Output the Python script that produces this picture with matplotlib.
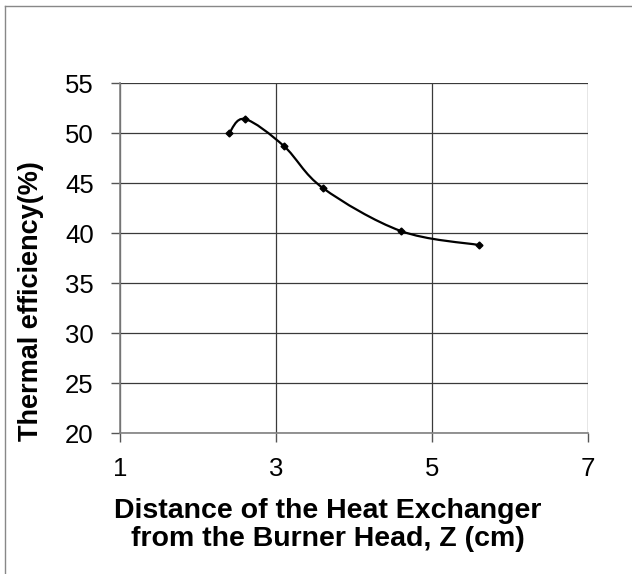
import numpy as np
import matplotlib
matplotlib.use('Agg')
from matplotlib import pyplot as plt
from matplotlib.path import Path
from matplotlib.patches import PathPatch
from matplotlib.lines import Line2D

plt.rcParams['font.family'] = ['Liberation Sans', 'DejaVu Sans']

# distance Z (cm) vs thermal efficiency (%)
z = [2.4, 2.6, 3.1, 3.6, 4.6, 5.6]
eff = [50.0, 51.4, 48.7, 44.5, 40.2, 38.8]
xticks = [1, 3, 5, 7]
yticks = [20, 25, 30, 35, 40, 45, 50, 55]

fig = plt.figure(figsize=(6.32, 5.74), dpi=100)
ax = fig.add_axes([0.19, 0.2456, 0.7404, 0.6098])

# smooth curve like excel (bezier through points)
pts = np.column_stack([z, eff])
n = len(pts)
verts = [pts[0]]
codes = [Path.MOVETO]
for i in range(n - 1):
    p0 = pts[max(i - 1, 0)]
    p1 = pts[i]
    p2 = pts[i + 1]
    p3 = pts[min(i + 2, n - 1)]
    c1 = p1 + (p2 - p0) / 6.0
    c2 = p2 - (p3 - p1) / 6.0
    verts += [c1, c2, p2]
    codes += [Path.CURVE4] * 3
ax.add_patch(PathPatch(Path(verts, codes), fill=False, edgecolor='black', lw=1.6, zorder=3))
ax.plot(z, eff, ls='none', marker='D', ms=3.5, color='black', zorder=4)

ax.set_xlim(1, 7)
ax.set_ylim(20, 55)
ax.set_xticks(xticks)
ax.set_yticks(yticks)
ax.grid(True, color='#3a3a3a', lw=0.9)
ax.set_axisbelow(True)
for s in ['top', 'right']:
    ax.spines[s].set_visible(False)
for s in ['left', 'bottom']:
    ax.spines[s].set_color('#808080')
    ax.spines[s].set_linewidth(1.2)
ax.tick_params(direction='out', length=6.5, width=1.0, color='#555555', labelsize=18.5)
ax.tick_params(axis='x', pad=10.5)
ax.tick_params(axis='y', pad=12.5)

ax.set_ylabel('Thermal efficiency(%)', fontsize=19.5, fontweight='bold')
ax.yaxis.set_label_coords(-0.162, 0.377)
ax.set_xlabel('Distance of the Heat Exchanger\nfrom the Burner Head, Z (cm)', fontsize=20.5,
              fontweight='bold', linespacing=1.12)
ax.xaxis.set_label_coords(0.444, -0.185)

# outer frame lines
fig.add_artist(Line2D([0.008, 0.008], [0.0, 0.99], transform=fig.transFigure, color='#888888', lw=1.0))
fig.add_artist(Line2D([0.008, 1.0], [0.99, 0.99], transform=fig.transFigure, color='#888888', lw=1.0))

fig.savefig('out.png', dpi=100)
